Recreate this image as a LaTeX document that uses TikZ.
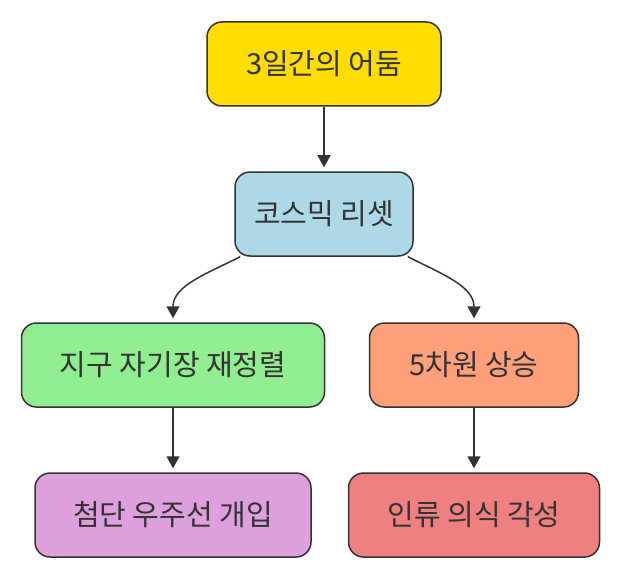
\documentclass[tikz,border=0pt]{standalone}
\usepackage{fontspec}
\setmainfont{Noto Sans CJK KR}
\usepackage{tikz}
\usetikzlibrary{arrows.meta, positioning}

\definecolor{darkyellow}{HTML}{FFDD00}
\definecolor{resetblue}{HTML}{ADD8E6}
\definecolor{fieldgreen}{HTML}{90EE90}
\definecolor{riseorange}{HTML}{FFA07A}
\definecolor{shipplum}{HTML}{DDA0DD}
\definecolor{mindcoral}{HTML}{F08080}
\definecolor{edgegray}{HTML}{333333}

\begin{document}
\begin{tikzpicture}[
      x=1pt, y=-1pt,
      box/.style={rectangle, rounded corners=15pt, draw=edgegray, line width=1.5pt,
        text=edgegray, font=\fontsize{29}{34}\selectfont, minimum height=84pt, inner sep=0pt},
      link/.style={draw=edgegray, line width=1.5pt, shorten >=4pt,
        -{Triangle[width=13pt,length=12pt]}}
    ]
      \useasboundingbox (0,0) rectangle (620,580);

      \node[box, fill=darkyellow, minimum width=234pt] (dark) at (324,64) {3일간의 어둠};
      \node[box, fill=resetblue, minimum width=178pt] (reset) at (324,214) {코스믹 리셋};
      \node[box, fill=fieldgreen, minimum width=303pt] (field) at (173,365) {지구 자기장 재정렬};
      \node[box, fill=riseorange, minimum width=209pt] (rise) at (474,365) {5차원 상승};
      \node[box, fill=shipplum, minimum width=276pt] (ship) at (173,515) {첨단 우주선 개입};
      \node[box, fill=mindcoral, minimum width=251pt] (mind) at (474,515) {인류 의식 각성};

      \draw[link] (dark) -- (reset);
      \draw[link] (reset) to[out=-153, in=90] (field.north);
      \draw[link] (reset) to[out=-27, in=90] (rise.north);
      \draw[link] (field) -- (ship);
      \draw[link] (rise) -- (mind);
    \end{tikzpicture}
\end{document}
